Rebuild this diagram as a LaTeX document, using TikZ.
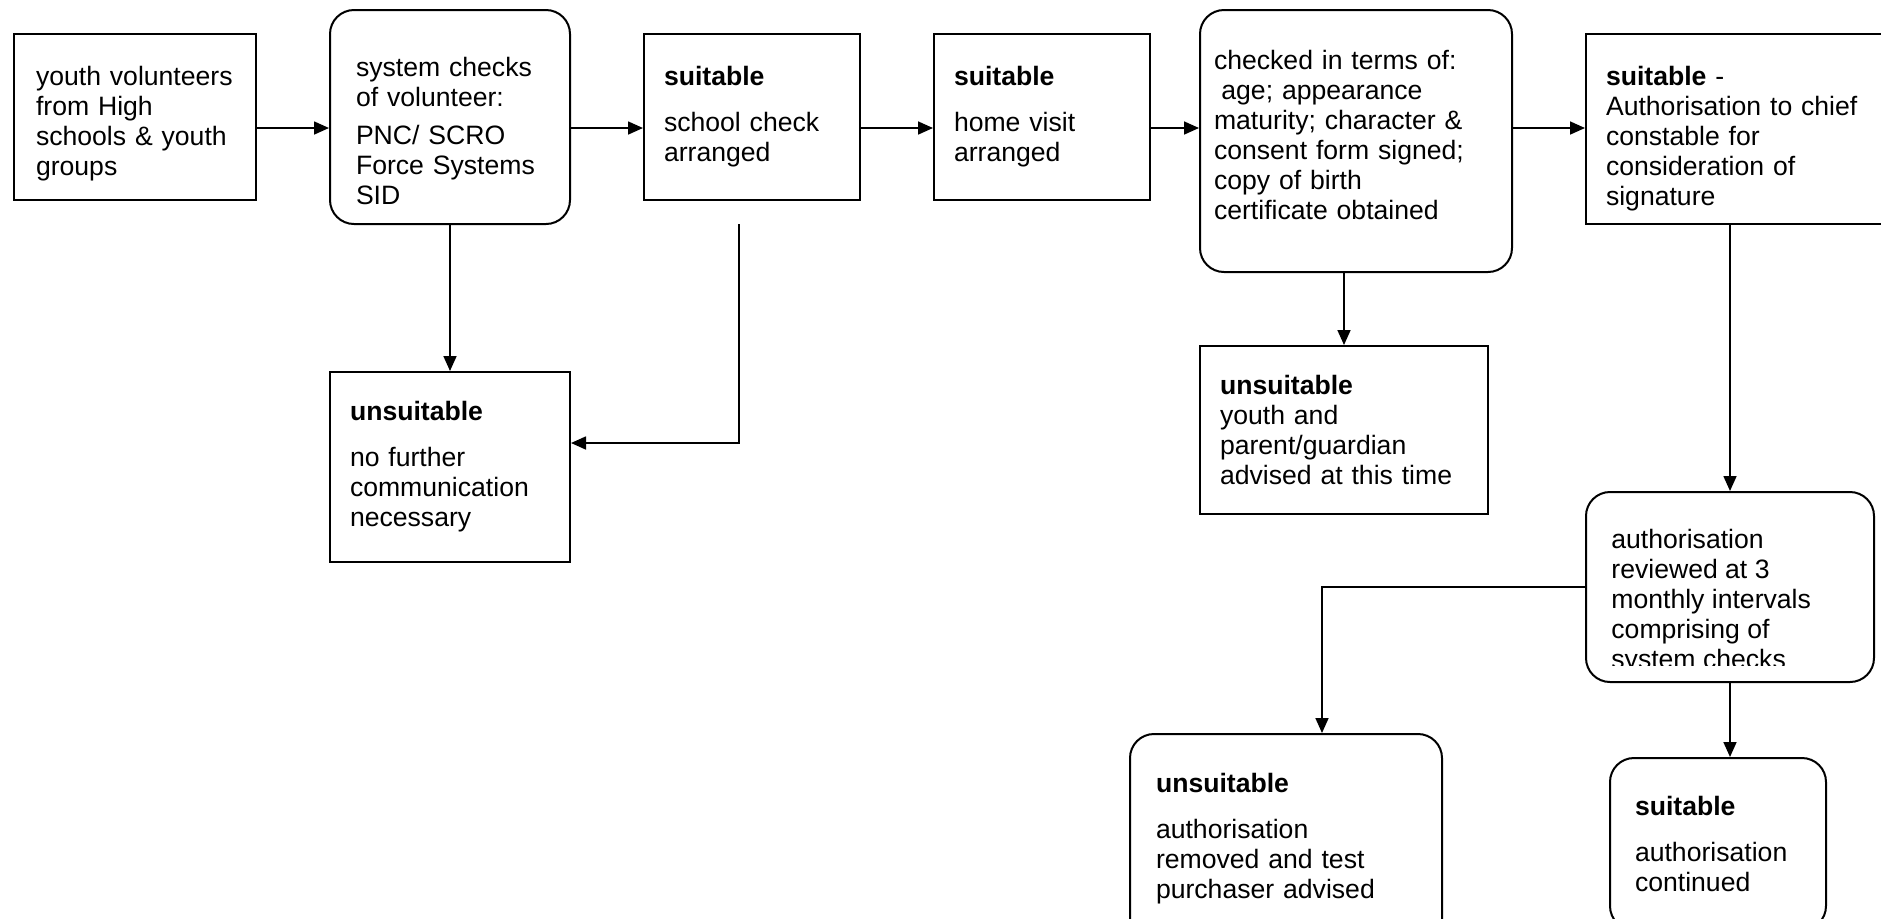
\documentclass[tikz,border=0pt]{standalone}
\usepackage{fontspec}
\setmainfont{Liberation Sans}
\usetikzlibrary{positioning}
\usetikzlibrary{arrows.meta}

\newcommand{\boxfont}{\fontsize{13.3}{15}\selectfont}
% pushes the text of a box down a little
\newcommand{\toppad}[1]{\rule{0pt}{#1}}

\begin{document}
\begin{tikzpicture}
[x=0.5pt, y=-0.5pt, >={Triangle[length=7.5pt,width=6.5pt]},
  rect node/.style={rectangle,draw,line width=1pt,align=left,
    font=\boxfont,inner ysep=0pt},
  round node/.style={rect node,rounded corners=12pt},
  link/.style={->,line width=0.85pt}]

    \useasboundingbox (0,0) rectangle (1881,918);
    \clip (0,0) rectangle (1881,918);
    \coordinate (row) at (0,128);

    % top row
    \node [rect node, minimum height=83pt, text width=99pt, inner xsep=11pt] (vol) at (135,117)
        {\toppad{16.3pt}youth volunteers\\ from High\\ schools \& youth\\ groups};
    \node [round node, minimum height=107pt, text width=94pt, inner xsep=13pt] (sys) [right=36pt of vol]
        {\toppad{23.5pt}system checks\\ of volunteer:\\[4.2pt] PNC/ SCRO\\ Force Systems\\ SID};
    \node [rect node, minimum height=83pt, text width=88pt, inner xsep=10pt] (school) [right=36pt of sys]
        {\textbf{suitable}\\[8pt] school check\\ arranged};
    \node [rect node, minimum height=83pt, text width=88pt, inner xsep=10pt] (home) [right=36pt of school]
        {\textbf{suitable}\\[8pt] home visit\\ arranged};
    \node [round node, minimum height=131pt, text width=142pt, inner xsep=7pt] (terms) [right=24pt of home, yshift=-12pt]
        {checked in terms of:\\ \hspace*{0.278em}age; appearance\\ maturity; character \&\\ consent form signed;\\ copy of birth\\ certificate obtained\rule[-6.6pt]{0pt}{6.6pt}};
    \node [rect node, minimum height=95pt, text width=142pt, inner xsep=10pt] (chief) [right=36pt of terms, yshift=6pt]
        {\toppad{19.3pt}\textbf{suitable} -\\ Authorisation to chief\\ constable for\\ consideration of\\ signature};

    % outcomes
    \node [rect node, minimum height=95pt, text width=100pt, inner xsep=10pt] (nofurther) [below=73pt of sys]
        {\textbf{unsuitable}\\[8pt] no further\\ communication\\ necessary};
    \node [rect node, minimum height=84pt, text width=124pt, inner xsep=10pt] (advised) [below=36pt of terms.south west, anchor=north west]
        {\textbf{unsuitable}\\ youth and\\ parent/guardian\\ advised at this time};
    \node [round node, minimum width=144pt, minimum height=95pt, inner sep=0pt] (review) [below=133pt of chief.south west, anchor=north west] {};
    \begin{scope}
        \clip (review.north west) rectangle ([yshift=9pt]review.south east);
        \node [font=\boxfont, align=left, anchor=north west, inner sep=0pt] (review text) at ([xshift=13pt, yshift=-19pt]review.north west)
            {authorisation\\ reviewed at 3\\ monthly intervals\\ comprising of\\ system checks};
    \end{scope}
    \node [round node, minimum height=105pt, text width=130pt, inner xsep=13pt] (removed) [below=25pt of review.south west, anchor=north west, xshift=-228pt]
        {\textbf{unsuitable}\\[8pt] authorisation\\ removed and test\\ purchaser advised};
    \node [round node, minimum height=86pt, text width=83pt, inner xsep=12.5pt] (continued) [below=37pt of review.south west, anchor=north west, xshift=12pt]
        {\textbf{suitable}\\[8pt] authorisation\\ continued};

    \coordinate [below=11.5pt of school.south, xshift=-6.5pt] (sc);
    \coordinate (c10) at ([xshift=18pt]removed.north);

    \draw[link] (vol.east |- row) -- (sys.west |- row);
    \draw[link] (sys.east |- row) -- (school.west |- row);
    \draw[link] (school.east |- row) -- (home.west |- row);
    \draw[link] (home.east |- row) -- (terms.west |- row);
    \draw[link] (terms.east |- row) -- (chief.west |- row);
    \draw[link] (sys.south) -- (nofurther.north);
    \draw[link] (sc) |- ([yshift=12pt]nofurther.east);
    \draw[link] (advised.north |- terms.south) -- (advised.north);
    \draw[link] (review.north |- chief.south) -- (review.north);
    \draw[link] (review.west) -| (c10);
    \draw[link] (review.south) -- (review.south |- continued.north);
\end{tikzpicture}
\end{document}
